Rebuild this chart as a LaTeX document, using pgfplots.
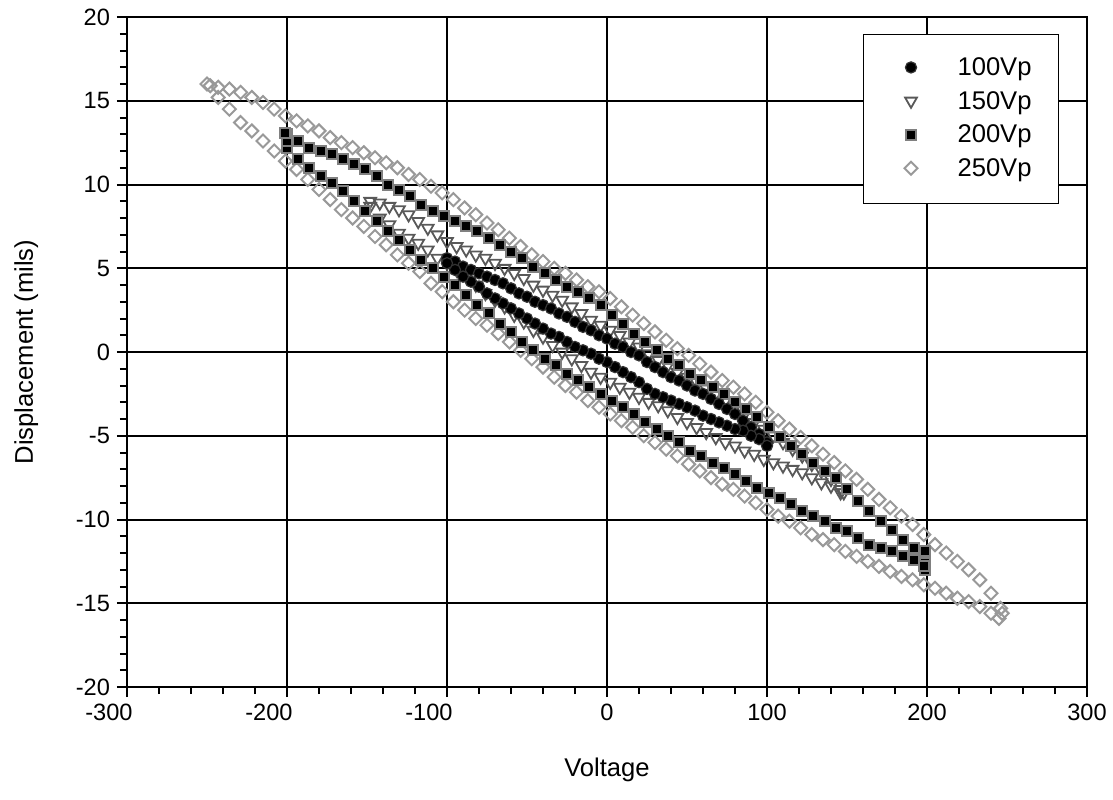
\documentclass[border=0pt]{standalone}
\usepackage{fontspec}
\setmainfont{Liberation Sans}
\usepackage{pgfplots}
\pgfplotsset{compat=1.18}

\pgfplotsset{
  s100/.style={only marks, mark=*, mark size=2.8pt,
    mark options={fill=black, draw=black!80, line width=0.6pt}},
  s150/.style={only marks, mark=triangle, mark size=3.4pt,
    mark options={rotate=180, draw=black!65, fill=none, line width=0.9pt}},
  s200/.style={only marks, mark=square*, mark size=2.5pt,
    mark options={fill=black, draw=black!50, line width=1pt}},
  s250/.style={only marks, mark=square, mark size=2.3pt,
    mark options={rotate=45, draw=black!40, fill=none, line width=1pt}},
}

\begin{document}
\begin{tikzpicture}
\useasboundingbox (-63.5pt,-56pt) rectangle (493pt,343.5pt);
\begin{axis}[
  at={(0,0)}, anchor=south west,
  width=480pt, height=335pt, scale only axis,
  xmin=-300, xmax=300, ymin=-20, ymax=20,
  xtick={-300,-200,...,300}, ytick={-20,-15,...,20},
  xticklabels={{-300\hspace*{18pt}},{-200\hspace*{18pt}},{-100\hspace*{18pt}},0,100,200,300},
  minor x tick num=4, minor y tick num=4,
  tick pos=left, tick align=outside,
  major tick length=5pt, minor tick length=3.5pt,
  tick style={black, line width=1pt},
  grid=major, major grid style={black, line width=1pt},
  axis line style={line width=1pt},
  /pgf/number format/assume math mode=true,
  ticklabel style={font=\fontsize{11.8}{14}\selectfont},
  xlabel={Voltage}, ylabel={Displacement (mils)},
  label style={font=\fontsize{12.8}{15}\selectfont},
  xlabel style={at={(axis description cs:0.5,-0.124)}, anchor=center},
  ylabel style={at={(axis description cs:-0.105,0.5)}, anchor=center},
  legend cell align=left,
  legend image code/.code={
    \path[draw=none, fill=none] (-10.5pt,0.6pt) rectangle (2.5pt,0.6pt);
    \draw[#1] plot coordinates {(0pt,0.6pt)};
  },
  legend style={at={(axis description cs:0.9708,0.9746)}, anchor=north east,
    draw=black, fill=white, inner xsep=13.5pt, inner ysep=11pt,
    font=\fontsize{12.8}{15}\selectfont, row sep=4.6pt, column sep=20pt,
    nodes={inner sep=0pt, text height=9.5pt, text depth=2.7pt}},
]
% 250Vp
\addplot+[s250, forget plot] coordinates {
(-250,16.0) (-243,15.8) (-236,15.7) (-229,15.5) (-222,15.2) (-215,14.9) (-208,14.5) (-201,14.1)
(-194,13.8) (-187,13.5) (-180,13.2) (-173,12.8) (-166,12.5) (-159,12.2) (-152,11.9) (-145,11.6)
(-138,11.3) (-131,11.0) (-124,10.6) (-117,10.3) (-110,9.9) (-103,9.5) (-96,9.1) (-89,8.6)
(-82,8.2) (-75,7.7) (-68,7.3) (-61,6.8) (-54,6.3) (-47,5.8) (-40,5.4) (-33,5.0) (-26,4.7)
(-19,4.3) (-12,3.9) (-5,3.6) (2,3.2) (9,2.7) (16,2.2) (23,1.7) (30,1.2) (37,0.7) (44,0.2)
(51,-0.2) (58,-0.7) (65,-1.2) (72,-1.7) (79,-2.1) (86,-2.5) (93,-3.0) (100,-3.6) (107,-4.1)
(114,-4.6) (121,-5.1) (128,-5.6) (135,-6.1) (142,-6.6) (149,-7.1) (156,-7.6) (163,-8.2)
(170,-8.8) (177,-9.3) (184,-9.8) (191,-10.3) (198,-10.9) (205,-11.5) (212,-12.0) (219,-12.5)
(226,-13.0) (233,-13.6) (240,-14.4) (246,-15.3) (247,-15.6)
(245,-15.9) (240,-15.6) (233,-15.2) (226,-14.9) (219,-14.7) (212,-14.4) (205,-14.1) (198,-13.9)
(191,-13.6) (184,-13.4) (177,-13.1) (170,-12.8) (163,-12.5) (156,-12.2) (149,-11.9) (142,-11.5)
(135,-11.2) (128,-10.9) (121,-10.5) (114,-10.1) (107,-9.8) (100,-9.4) (93,-9.0) (86,-8.6)
(79,-8.2) (72,-7.9) (65,-7.5) (58,-7.1) (51,-6.7) (44,-6.2) (37,-5.8) (30,-5.4) (23,-5.0)
(16,-4.5) (9,-4.1) (2,-3.7) (-5,-3.3) (-12,-2.9) (-19,-2.4) (-26,-2.0) (-33,-1.5) (-40,-0.9)
(-47,-0.4) (-54,0.1) (-61,0.6) (-68,1.1) (-75,1.6) (-82,2.0) (-89,2.5) (-96,3.0) (-103,3.6)
(-110,4.1) (-117,4.8) (-124,5.3) (-131,5.8) (-138,6.4) (-145,6.9) (-152,7.5) (-159,8.0)
(-166,8.5) (-173,9.1) (-180,9.7) (-187,10.3) (-194,10.9) (-201,11.4) (-208,12.0) (-215,12.6)
(-222,13.2) (-229,13.7) (-236,14.5) (-243,15.2) (-248,15.9)
};
% 150Vp
\addplot+[s150, forget plot] coordinates {
(-148,9.0) (-142,8.9) (-136,8.7) (-130,8.5) (-124,8.2) (-118,7.8) (-112,7.4) (-106,7.0)
(-100,6.6) (-94,6.3) (-88,6.1) (-82,5.8) (-76,5.6) (-70,5.3) (-64,5.0) (-58,4.7) (-52,4.4)
(-46,4.0) (-40,3.7) (-34,3.4) (-28,3.1) (-22,2.7) (-16,2.3) (-10,1.9) (-4,1.6) (2,1.3)
(8,1.0) (14,0.6) (20,0.3) (26,-0.1) (32,-0.5) (38,-0.8) (44,-1.2) (50,-1.5) (56,-1.8)
(62,-2.2) (68,-2.5) (74,-2.9) (80,-3.3) (86,-3.7) (92,-4.2) (98,-4.6) (104,-5.0) (110,-5.4)
(116,-5.8) (122,-6.2) (128,-6.7) (134,-7.1) (140,-7.6) (146,-8.2) (148,-8.4)
(146,-8.4) (140,-8.0) (134,-7.8) (128,-7.5) (122,-7.2) (116,-7.0) (110,-6.8) (104,-6.6)
(98,-6.4) (92,-6.1) (86,-5.9) (80,-5.6) (74,-5.4) (68,-5.1) (62,-4.8) (56,-4.5) (50,-4.2)
(44,-3.9) (38,-3.5) (32,-3.2) (26,-3.0) (20,-2.7) (14,-2.4) (8,-2.1) (2,-1.8) (-4,-1.5)
(-10,-1.2) (-16,-0.8) (-22,-0.4) (-28,0.0) (-34,0.4) (-40,0.9) (-46,1.3) (-52,1.8) (-58,2.2)
(-64,2.7) (-70,3.1) (-76,3.5) (-82,4.0) (-88,4.5) (-94,4.9) (-100,5.3) (-106,5.6) (-112,6.1)
(-118,6.5) (-124,6.8) (-130,7.1) (-136,7.6) (-142,8.0) (-148,8.7)
};
% 200Vp
\addplot+[s200, forget plot] coordinates {
(-200,13.0) (-193,12.6) (-186,12.2) (-179,12.0) (-172,11.8) (-165,11.5) (-158,11.2) (-151,10.9)
(-144,10.5) (-137,10.0) (-130,9.7) (-123,9.3) (-116,8.8) (-109,8.4) (-102,8.1) (-95,7.8)
(-88,7.5) (-81,7.2) (-74,6.8) (-67,6.4) (-60,6.0) (-53,5.6) (-46,5.1) (-39,4.7) (-32,4.3)
(-25,3.9) (-18,3.6) (-11,3.2) (-4,2.8) (3,2.2) (10,1.7) (17,1.1) (24,0.6) (31,0.1) (38,-0.4)
(45,-0.8) (52,-1.3) (59,-1.7) (66,-2.1) (73,-2.5) (80,-3.0) (87,-3.4) (94,-3.9) (101,-4.5)
(108,-5.1) (115,-5.6) (122,-6.1) (129,-6.6) (136,-7.1) (143,-7.5) (150,-8.2) (157,-8.9)
(164,-9.5) (171,-10.1) (178,-10.6) (185,-11.2) (192,-11.7) (198,-12.3)
(199,-11.9) (199,-12.6) (199,-13.0)
(198,-12.8) (192,-12.4) (185,-12.2) (178,-11.9) (171,-11.7) (164,-11.5) (157,-11.1) (150,-10.7)
(143,-10.5) (136,-10.1) (129,-9.8) (122,-9.5) (115,-9.1) (108,-8.7) (101,-8.4) (94,-8.1)
(87,-7.7) (80,-7.3) (73,-6.9) (66,-6.6) (59,-6.2) (52,-5.9) (45,-5.4) (38,-5.0) (31,-4.6)
(24,-4.2) (17,-3.7) (10,-3.3) (3,-2.9) (-4,-2.5) (-11,-2.1) (-18,-1.7) (-25,-1.3) (-32,-0.8)
(-39,-0.4) (-46,0.1) (-53,0.6) (-60,1.2) (-67,1.7) (-74,2.3) (-81,2.8) (-88,3.4) (-95,4.0)
(-102,4.5) (-109,5.0) (-116,5.5) (-123,6.1) (-130,6.7) (-137,7.2) (-144,7.8) (-151,8.4)
(-158,9.0) (-165,9.6) (-172,10.1) (-179,10.5) (-186,11.0) (-193,11.5) (-200,12.2)
(-200,12.6) (-201,13.1)
};
% 100Vp
\addplot+[s100, forget plot] coordinates {
(-100,5.6) (-95,5.4) (-90,5.1) (-85,4.9) (-80,4.7) (-75,4.5) (-70,4.3) (-65,4.1) (-60,3.8)
(-55,3.5) (-50,3.3) (-45,3.0) (-40,2.8) (-35,2.6) (-30,2.3) (-25,2.1) (-20,1.8) (-15,1.5)
(-10,1.3) (-5,1.0) (0,0.8) (5,0.5) (10,0.3) (15,0.0) (20,-0.2) (25,-0.6) (30,-0.9) (35,-1.2)
(40,-1.5) (45,-1.7) (50,-2.0) (55,-2.3) (60,-2.5) (65,-2.8) (70,-3.1) (75,-3.4) (80,-3.7)
(85,-4.1) (90,-4.5) (95,-4.9) (100,-5.4)
(100,-5.6) (95,-5.2) (90,-5.0) (85,-4.7) (80,-4.6) (75,-4.4) (70,-4.2) (65,-4.0) (60,-3.8)
(55,-3.5) (50,-3.3) (45,-3.1) (40,-2.9) (35,-2.7) (30,-2.5) (25,-2.2) (20,-1.8) (15,-1.5)
(10,-1.2) (5,-0.9) (0,-0.6) (-5,-0.4) (-10,-0.1) (-15,0.1) (-20,0.3) (-25,0.6) (-30,0.9)
(-35,1.1) (-40,1.4) (-45,1.7) (-50,2.0) (-55,2.3) (-60,2.6) (-65,2.9) (-70,3.2) (-75,3.5)
(-80,3.9) (-85,4.2) (-90,4.5) (-95,4.9) (-100,5.3)
};
\addlegendimage{s100}\addlegendentry{100Vp}
\addlegendimage{s150}\addlegendentry{150Vp}
\addlegendimage{s200}\addlegendentry{200Vp}
\addlegendimage{s250}\addlegendentry{250Vp}
\end{axis}
\end{tikzpicture}
\end{document}
